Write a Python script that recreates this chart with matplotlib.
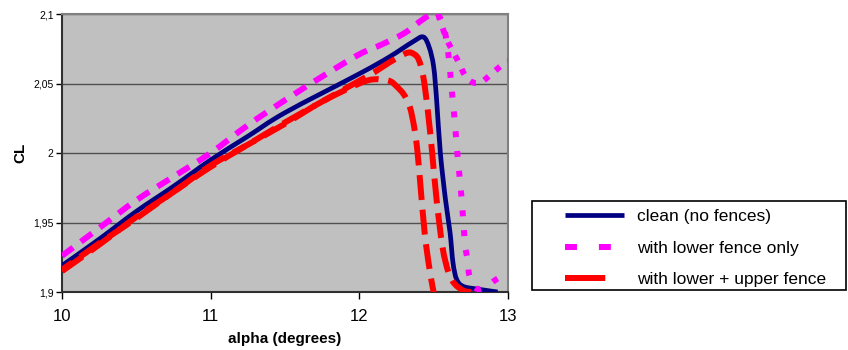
import matplotlib
matplotlib.use("Agg")
import matplotlib.pyplot as plt
from matplotlib.lines import Line2D
from matplotlib.patches import Rectangle, PathPatch
from matplotlib.path import Path

plt.rcParams['font.family'] = ['Liberation Sans', 'DejaVu Sans']
plt.rcParams['lines.scale_dashes'] = False

# clean wing (no fences)
alpha_clean = [10.0, 10.25, 10.5, 10.75, 11.0, 11.25, 11.5, 12.0, 12.2, 12.36,
               12.43, 12.47, 12.5, 12.52, 12.545, 12.58, 12.61, 12.63, 12.655, 12.7, 12.8, 12.93]
cl_clean = [1.919, 1.938, 1.958, 1.976, 1.995, 2.012, 2.029, 2.057, 2.069, 2.080,
            2.0835, 2.076, 2.062, 2.038, 2.000, 1.966, 1.943, 1.921, 1.909, 1.904, 1.902, 1.900]

# lower fence only: rise, then the two branches after the peak
alpha_low = [10.0, 10.25, 10.5, 10.75, 11.0, 11.25, 11.5, 11.75, 12.0, 12.15, 12.3, 12.4, 12.47, 12.53]
cl_low = [1.926, 1.946, 1.966, 1.983, 2.000, 2.020, 2.038, 2.055, 2.071, 2.078, 2.086, 2.094, 2.099, 2.100]
alpha_low_a = [12.53, 12.56, 12.6, 12.66, 12.71, 12.76, 12.82, 12.9, 12.98, 13.0]
cl_low_a = [2.100, 2.090, 2.079, 2.067, 2.056, 2.051, 2.051, 2.058, 2.065, 2.066]
alpha_low_b = [12.53, 12.57, 12.6, 12.62, 12.64, 12.66, 12.69, 12.71, 12.73, 12.74, 12.78, 12.84, 12.92, 13.0]
cl_low_b = [2.100, 2.090, 2.070, 2.047, 2.025, 1.999, 1.965, 1.935, 1.922, 1.912, 1.903, 1.903, 1.909, 1.914]

# lower + upper fence (two runs)
alpha_both_a = [10.0, 10.25, 10.5, 10.75, 11.0, 11.25, 11.5, 11.75, 12.0, 12.1, 12.2, 12.25, 12.3,
                12.34, 12.37, 12.39, 12.41, 12.44, 12.47, 12.5, 12.52]
cl_both_a = [1.915, 1.934, 1.954, 1.972, 1.991, 2.006, 2.021, 2.037, 2.050, 2.053, 2.052, 2.048, 2.042,
             2.033, 2.018, 2.002, 1.978, 1.942, 1.918, 1.900, 1.895]
alpha_both_b = [10.0, 10.25, 10.5, 10.75, 11.0, 11.25, 11.5, 11.75, 12.0, 12.1, 12.2, 12.32, 12.37,
                12.4, 12.43, 12.46, 12.49, 12.52, 12.56, 12.6, 12.64, 12.7, 12.75]
cl_both_b = [1.916, 1.935, 1.953, 1.972, 1.990, 2.006, 2.022, 2.037, 2.052, 2.058, 2.065, 2.072, 2.071,
             2.067, 2.055, 2.031, 2.000, 1.966, 1.932, 1.914, 1.906, 1.901, 1.900]

x_ticks = [10, 11, 12, 13]
y_ticks = [1.9, 1.95, 2.0, 2.05, 2.1]
y_tick_labels = ["1,9", "1,95", "2", "2,05", "2,1"]
labels = ["clean (no fences)", "with lower fence only", "with lower + upper fence"]

navy = "#000080"
magenta = "#FF00FF"
red = "#FF0000"


def smooth_path(xs, ys):
    # Excel-like smoothed line: Catmull-Rom segments as cubic Bezier curves
    pts = list(zip(xs, ys))
    verts = [pts[0]]
    codes = [Path.MOVETO]
    n = len(pts)
    for i in range(n - 1):
        p0 = pts[max(i - 1, 0)]
        p1 = pts[i]
        p2 = pts[i + 1]
        p3 = pts[min(i + 2, n - 1)]
        c1 = (p1[0] + (p2[0] - p0[0]) / 6, p1[1] + (p2[1] - p0[1]) / 6)
        c2 = (p2[0] - (p3[0] - p1[0]) / 6, p2[1] - (p3[1] - p1[1]) / 6)
        verts += [c1, c2, p2]
        codes += [Path.CURVE4] * 3
    return Path(verts, codes)


def draw(ax, xs, ys, color, lw, ls, z):
    patch = PathPatch(smooth_path(xs, ys), fill=False, edgecolor=color, lw=lw,
                      linestyle=ls, capstyle="butt", joinstyle="round", zorder=z)
    ax.add_patch(patch)


fig = plt.figure(figsize=(8.48, 3.5), dpi=100)
ax = fig.add_axes([62 / 848, 58 / 350, 446 / 848, 278 / 350])
ax.set_facecolor("#C0C0C0")

draw(ax, alpha_clean, cl_clean, navy, 3.4, "-", 3)
draw(ax, alpha_low, cl_low, magenta, 4.3, (0, (10, 7)), 3)
draw(ax, alpha_low_a, cl_low_a, magenta, 4.3, (0, (4.3, 6.5)), 3)
draw(ax, alpha_low_b, cl_low_b, magenta, 4.3, (0, (4.3, 10)), 3)
draw(ax, alpha_both_a, cl_both_a, red, 4.3, (0, (18, 7)), 4)
draw(ax, alpha_both_b, cl_both_b, red, 4.3, (9, (18, 7)), 4)

ax.set_xlim(10, 13)
ax.set_ylim(1.9, 2.1)
ax.set_xticks(x_ticks)
ax.set_yticks(y_ticks)
ax.set_yticklabels(y_tick_labels)
ax.tick_params(axis="x", labelsize=12, direction="out", length=5, width=1, pad=7)
ax.tick_params(axis="y", labelsize=7.5, direction="out", length=4, width=1, pad=2)
ax.yaxis.grid(True, color="#505050", lw=1)
ax.set_axisbelow(True)

for side in ["top", "right"]:
    ax.spines[side].set_color("#808080")
    ax.spines[side].set_linewidth(1.5)
for side in ["left", "bottom"]:
    ax.spines[side].set_color("#303030")
    ax.spines[side].set_linewidth(1.5)

ax.set_xlabel("alpha (degrees)", fontsize=11, fontweight="bold", labelpad=6)
ax.set_ylabel("CL", fontsize=11, fontweight="bold", labelpad=4)

# legend with its own frame
fig.patches.append(Rectangle((532 / 848, 60 / 350), 314 / 848, 89 / 350, transform=fig.transFigure,
                             fill=False, edgecolor="black", lw=1.2))
handles = [
    Line2D([], [], color=navy, lw=3.4, solid_capstyle="butt"),
    Line2D([], [], color=magenta, lw=4.3, dashes=(8.6, 15.8), dash_capstyle="butt"),
    Line2D([], [], color=red, lw=4.3, dashes=(29, 14), dash_capstyle="butt"),
]
fig.legend(handles, labels, loc="upper left", bbox_to_anchor=(565 / 848, 1 - 209 / 350),
           frameon=False, fontsize=12.5, borderpad=0, borderaxespad=0, handlelength=3.4,
           handletextpad=0.75, labelspacing=0.95)

fig.savefig("out.png", dpi=100)
